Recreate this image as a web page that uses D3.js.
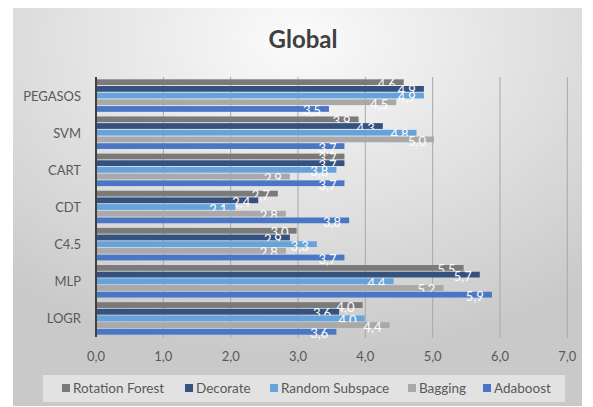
<!DOCTYPE html>
<html>
<head>
<meta charset="utf-8">
<script src="https://cdn.jsdelivr.net/npm/d3@7"></script>
<style>
  html, body { margin: 0; padding: 0; background: #fff; }
  svg { display: block; font-family: Lato, "Noto Sans", sans-serif; }
</style>
</head>
<body>
<svg id="chart" width="593" height="407"></svg>
<script>
// data
const categories = ['PEGASOS', 'SVM', 'CART', 'CDT', 'C4.5', 'MLP', 'LOGR'];
const seriesNames = ['Rotation Forest', 'Decorate', 'Random Subspace', 'Bagging', 'Adaboost'];
const seriesColors = ['#7a7a7a', '#34517f', '#64a3dc', '#a9a9a9', '#4a76c6'];

const rotationForest = [4.57, 3.90, 3.69, 2.70, 2.98, 5.46, 3.96];
const decorate       = [4.87, 4.26, 3.69, 2.41, 2.88, 5.70, 3.61];
const randomSubspace = [4.87, 4.76, 3.57, 2.07, 3.28, 4.42, 3.99];
const bagging        = [4.46, 5.02, 2.88, 2.82, 2.82, 5.16, 4.36];
const adaboost       = [3.46, 3.69, 3.69, 3.76, 3.69, 5.88, 3.57];
const seriesValues = [rotationForest, decorate, randomSubspace, bagging, adaboost];

// the reference shows "3,8" on the CART / Random Subspace bar
const labelOverrides = { 'Random Subspace|CART': '3,8' };

const xTicks = [0, 1, 2, 3, 4, 5, 6, 7];

const svg = d3.select('#chart');

// background with soft gradient
const defs = svg.append('defs');
const grad = defs.append('radialGradient')
  .attr('id', 'bg')
  .attr('cx', '50%').attr('cy', '8%').attr('r', '80%');
grad.append('stop').attr('offset', '0%').attr('stop-color', '#fbfbfb');
grad.append('stop').attr('offset', '100%').attr('stop-color', '#c9c9c9');

svg.append('rect')
  .attr('x', 13).attr('y', 8)
  .attr('width', 569).attr('height', 398)
  .attr('fill', 'url(#bg)');

const plotTop = 77, plotBottom = 337;

const x = d3.scaleLinear().domain([0, 7]).range([96, 567.3]);
const y = d3.scaleBand().domain(categories)
  .range([plotTop, plotBottom])
  .paddingInner(0.125).paddingOuter(0.0625);
const ySub = d3.scaleBand().domain(seriesNames)
  .range([0, y.bandwidth()])
  .paddingInner(0.14);

const fmt = v => d3.format('.1f')(v).replace('.', ',');

// title
svg.append('text')
  .attr('x', 303).attr('y', 48)
  .attr('text-anchor', 'middle')
  .style('font-size', '24px')
  .style('font-weight', 'bold')
  .style('fill', '#404040')
  .text('Global');

// gridlines
svg.append('g').selectAll('line')
  .data(xTicks.slice(1))
  .join('line')
  .attr('x1', d => x(d)).attr('x2', d => x(d))
  .attr('y1', plotTop).attr('y2', plotBottom + 1)
  .attr('stroke', '#a8a8a8')
  .attr('stroke-width', 1);

// x axis labels
svg.append('g').selectAll('text')
  .data(xTicks)
  .join('text')
  .attr('x', d => x(d))
  .attr('y', 361)
  .attr('text-anchor', 'middle')
  .style('font-size', '13px')
  .style('fill', '#595959')
  .text(fmt);

// bars
const groups = svg.append('g').selectAll('g')
  .data(seriesNames)
  .join('g');

groups.each(function (name, si) {
  const rows = categories.map((c, ci) => ({ c, v: seriesValues[si][ci] }));
  d3.select(this).selectAll('rect')
    .data(rows)
    .join('rect')
    .attr('x', x(0))
    .attr('y', d => y(d.c) + ySub(name))
    .attr('width', d => x(d.v) - x(0))
    .attr('height', ySub.bandwidth())
    .attr('fill', seriesColors[si]);
});

// data labels, white, inside the bar end
groups.each(function (name, si) {
  const rows = categories.map((c, ci) => ({ c, v: seriesValues[si][ci] }));
  d3.select(this).selectAll('text')
    .data(rows)
    .join('text')
    .attr('x', d => x(d.v) - 8)
    .attr('y', d => y(d.c) + ySub(name) + ySub.bandwidth() / 2 + 6.5)
    .attr('text-anchor', 'end')
    .style('font-size', '13px')
    .style('fill', '#ffffff')
    .text(d => labelOverrides[name + '|' + d.c] || fmt(d.v));
});

// left axis line
svg.append('line')
  .attr('x1', x(0)).attr('x2', x(0))
  .attr('y1', plotTop).attr('y2', plotBottom)
  .attr('stroke', '#404040')
  .attr('stroke-width', 2);

// category labels
svg.append('g').selectAll('text')
  .data(categories)
  .join('text')
  .attr('x', 81)
  .attr('y', d => y(d) + y.bandwidth() / 2 + 5)
  .attr('text-anchor', 'end')
  .style('font-size', '13px')
  .style('fill', '#595959')
  .text(d => d);

// legend
svg.append('rect')
  .attr('x', 43).attr('y', 375)
  .attr('width', 522).attr('height', 27)
  .attr('fill', '#e2e2e2');

const legendX = [62, 185, 270, 408, 483];
const legend = svg.append('g').selectAll('g')
  .data(seriesNames)
  .join('g')
  .attr('transform', (d, i) => `translate(${legendX[i]},388)`);
legend.append('rect')
  .attr('x', 0).attr('y', -4)
  .attr('width', 8).attr('height', 8)
  .attr('fill', (d, i) => seriesColors[i]);
legend.append('text')
  .attr('x', 11).attr('y', 5)
  .style('font-size', '13.5px')
  .style('fill', '#595959')
  .text(d => d);
</script>
</body>
</html>
